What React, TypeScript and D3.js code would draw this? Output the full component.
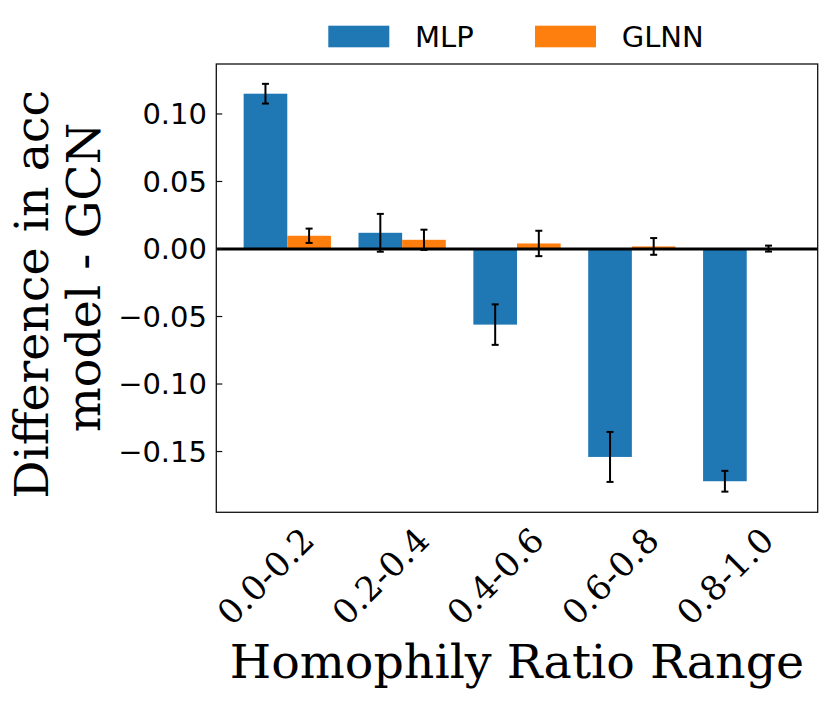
import React from "react";
import * as d3 from "d3";

const categories = ["0.0-0.2", "0.2-0.4", "0.4-0.6", "0.6-0.8", "0.8-1.0"];
const mlpValues = [0.115, 0.012, -0.056, -0.154, -0.172];
const mlpErrors = [0.0073, 0.014, 0.015, 0.0185, 0.0077];
const glnnValues = [0.0098, 0.0068, 0.0041, 0.0019, 0.0003];
const glnnErrors = [0.0053, 0.0075, 0.0094, 0.0062, 0.0022];
const yTicks = [0.1, 0.05, 0.0, -0.05, -0.1, -0.15];
const seriesNames = ["MLP", "GLNN"];
const seriesColors = ["#1f77b4", "#ff7f0e"];

const W = 830;
const H = 701;
const barW = 0.38;
const left = 216.3;
const right = 817.7;
const top = 64;
const bottom = 512.3;

export default function App() {
  const n = categories.length;
  const dMin = -barW / 2;
  const dMax = n - 1 + 1.5 * barW;
  const m = (dMax - dMin) * 0.05;
  const x = d3.scaleLinear().domain([dMin - m, dMax + m]).range([left, right]);
  const y = d3.scaleLinear().domain([-0.195, 0.137]).range([bottom, top]);
  const bw = x(barW) - x(0);
  const fmt = (v: number) => {
    const s = d3.format(".2f")(Math.abs(v));
    return v < 0 ? "\u2212" + s : s;
  };

  const series = [
    { vals: mlpValues, errs: mlpErrors, off: 0, color: seriesColors[0] },
    { vals: glnnValues, errs: glnnErrors, off: barW, color: seriesColors[1] },
  ];

  return (
    <svg
      width={W}
      height={H}
      style={{ position: "absolute", left: 0, top: 0, background: "#fff" }}
    >
      {/* bars */}
      {series.map((s, si) =>
        s.vals.map((v, i) => {
          const cx = x(i + s.off);
          const y0 = y(0);
          const y1 = y(v);
          return (
            <rect
              key={`b${si}-${i}`}
              x={cx - bw / 2}
              y={Math.min(y0, y1)}
              width={bw}
              height={Math.abs(y1 - y0)}
              fill={s.color}
            />
          );
        })
      )}
      {/* zero line */}
      <line x1={left} x2={right} y1={y(0)} y2={y(0)} stroke="#000" strokeWidth={2.8} />
      {/* error bars */}
      {series.map((s, si) =>
        s.vals.map((v, i) => {
          const cx = x(i + s.off);
          const ya = y(v + s.errs[i]);
          const yb = y(v - s.errs[i]);
          return (
            <g key={`e${si}-${i}`} stroke="#000" strokeWidth={2}>
              <line x1={cx} x2={cx} y1={ya} y2={yb} />
              <line x1={cx - 3.5} x2={cx + 3.5} y1={ya} y2={ya} />
              <line x1={cx - 3.5} x2={cx + 3.5} y1={yb} y2={yb} />
            </g>
          );
        })
      )}
      {/* frame */}
      <rect
        x={left}
        y={top}
        width={right - left}
        height={bottom - top}
        fill="none"
        stroke="#111"
        strokeWidth={1.3}
      />
      {/* y ticks */}
      {yTicks.map((t) => (
        <g key={`yt${t}`}>
          <line x1={left} x2={left + 6} y1={y(t)} y2={y(t)} stroke="#111" strokeWidth={1.2} />
          <text
            x={207}
            y={y(t)}
            dy="0.36em"
            textAnchor="end"
            fontFamily="DejaVu Sans"
            fontSize={29}
            fill="#000"
          >
            {fmt(t)}
          </text>
        </g>
      ))}
      {/* x tick labels */}
      {categories.map((c, i) => {
        const cx = x(i);
        const cy = 576;
        return (
          <text
            key={`xt${c}`}
            x={cx}
            y={cy}
            dy="0.36em"
            textAnchor="middle"
            fontFamily="DejaVu Serif"
            fontSize={34}
            fill="#000"
            transform={`rotate(-45, ${cx}, ${cy})`}
          >
            {c}
          </text>
        );
      })}
      {/* axis labels */}
      <text
        x={(left + right) / 2}
        y={678}
        textAnchor="middle"
        fontFamily="DejaVu Serif"
        fontSize={47.5}
        fill="#000"
      >
        Homophily Ratio Range
      </text>
      <text
        transform={`translate(48.3, 294.2) rotate(-90)`}
        textAnchor="middle"
        fontFamily="DejaVu Serif"
        fontSize={47.5}
        fill="#000"
      >
        Difference in acc
      </text>
      <text
        transform={`translate(100, 277.5) rotate(-90)`}
        textAnchor="middle"
        fontFamily="DejaVu Serif"
        fontSize={47.5}
        fill="#000"
      >
        model - GCN
      </text>
      {/* legend */}
      {seriesNames.map((name, i) => {
        const px = i === 0 ? 328.3 : 535;
        return (
          <g key={`lg${name}`}>
            <rect x={px} y={25.7} width={61} height={21.6} fill={seriesColors[i]} />
            <text
              x={px + 86.7}
              y={46.7}
              fontFamily="DejaVu Sans"
              fontSize={29}
              fill="#000"
            >
              {name}
            </text>
          </g>
        );
      })}
    </svg>
  );
}
